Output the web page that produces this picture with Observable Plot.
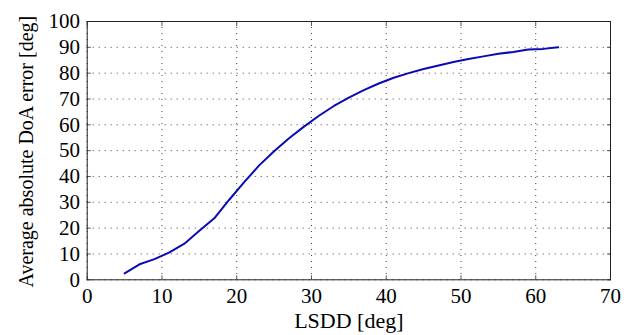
<!DOCTYPE html>
<html>
<head>
<meta charset="utf-8">
<script src="https://cdn.jsdelivr.net/npm/d3@7"></script>
<script src="https://cdn.jsdelivr.net/npm/@observablehq/plot@0.6"></script>
<style>
  html, body { margin: 0; padding: 0; background: #fff; }
</style>
</head>
<body>
<div id="chart"></div>
<script>
const lsdd = [5, 7, 9, 11, 13, 15, 17, 19, 21, 23, 25, 27, 29, 31, 33, 35, 37, 39, 41, 43, 45, 47, 49, 51, 53, 55, 57, 59, 61, 63];
const doaError = [2.5, 6, 8, 10.6, 14, 19, 23.8, 31, 37.8, 44.3, 49.8, 54.8, 59.3, 63.5, 67.3, 70.5, 73.4, 76, 78.2, 80, 81.6, 83, 84.3, 85.5, 86.5, 87.5, 88.2, 89.2, 89.4, 90];
const xTicks = [0, 10, 20, 30, 40, 50, 60, 70];
const yTicks = [0, 10, 20, 30, 40, 50, 60, 70, 80, 90, 100];
const xLabel = "LSDD [deg]";
const yLabel = "Average absolute DoA error [deg]";

const data = lsdd.map((x, i) => ({x, y: doaError[i]}));
const font = "Liberation Serif";

const chart = Plot.plot({
  width: 638,
  height: 335,
  marginLeft: 86.7,
  marginRight: 28,
  marginTop: 21,
  marginBottom: 55.7,
  style: {fontFamily: font, fontSize: "20px"},
  x: {domain: [0, 70], label: null},
  y: {domain: [0, 100], label: null},
  marks: [
    Plot.gridX(xTicks, {stroke: "#000", strokeOpacity: 0.75, strokeDasharray: "1,5"}),
    Plot.gridY(yTicks, {stroke: "#000", strokeOpacity: 0.75, strokeDasharray: "1,5"}),
    Plot.axisX(xTicks, {anchor: "bottom", tickSize: 0, tickPadding: 8.6, label: null, fontSize: 21, fontFamily: font}),
    Plot.axisY(yTicks, {anchor: "left", tickSize: 0, tickPadding: 7.2, label: null, fontSize: 21, fontFamily: font}),
    Plot.axisX(xTicks, {anchor: "bottom", tickSize: -4, tickFormat: () => "", label: null, stroke: "#555"}),
    Plot.axisX(xTicks, {anchor: "top", tickSize: -4, tickFormat: () => "", label: null, stroke: "#555"}),
    Plot.axisY(yTicks, {anchor: "left", tickSize: -4, tickFormat: () => "", label: null, stroke: "#555"}),
    Plot.axisY(yTicks, {anchor: "right", tickSize: -4, tickFormat: () => "", label: null, stroke: "#555"}),
    Plot.frame({stroke: "#222", strokeWidth: 1}),
    Plot.line(data, {x: "x", y: "y", stroke: "#0a0ab4", strokeWidth: 2}),
    Plot.text([xLabel], {frameAnchor: "bottom", textAnchor: "middle", lineAnchor: "middle", dy: 40.8, text: d => d, fontSize: 22, fontFamily: font, fill: "#000"}),
    Plot.text([yLabel], {frameAnchor: "left", textAnchor: "middle", lineAnchor: "middle", dx: -60.7, dy: 1, rotate: -90, text: d => d, fontSize: 20, fontFamily: font, fill: "#000"})
  ]
});
document.getElementById("chart").appendChild(chart);
</script>
</body>
</html>
